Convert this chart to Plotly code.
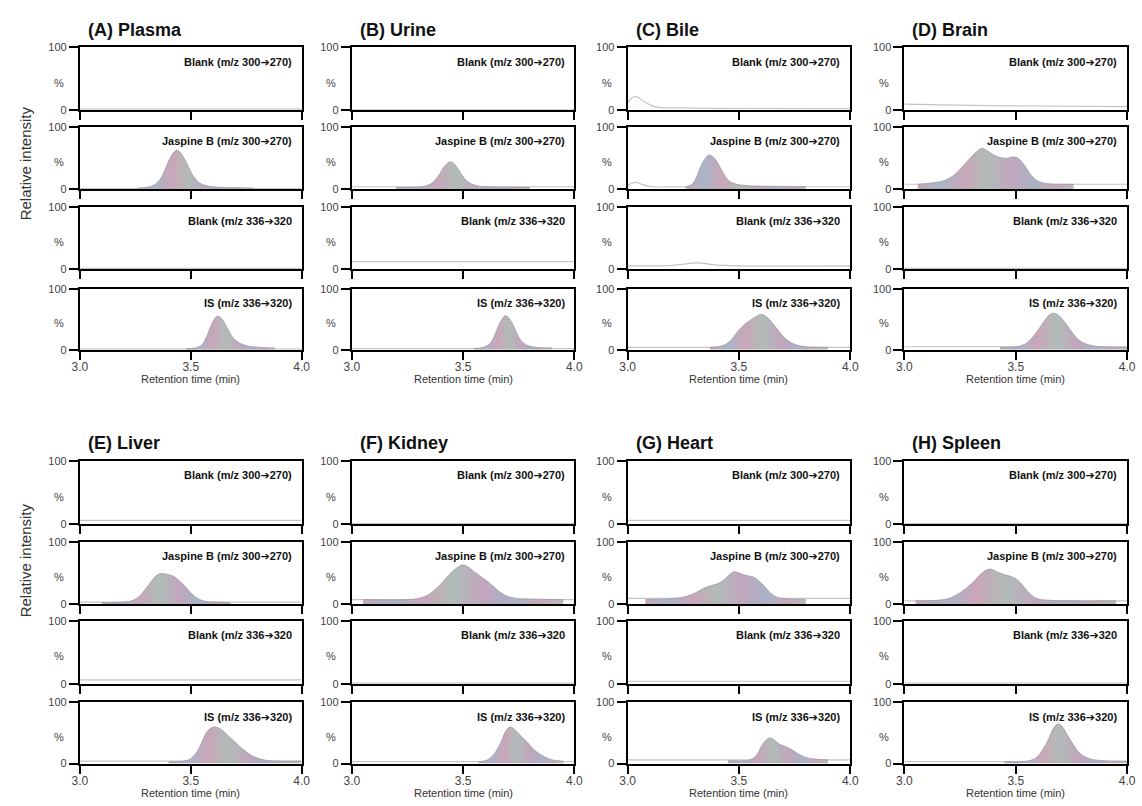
import plotly.graph_objects as go

# ---------------- data ----------------
PANEL_TITLES = ["(A) Plasma", "(B) Urine", "(C) Bile", "(D) Brain",
                "(E) Liver", "(F) Kidney", "(G) Heart", "(H) Spleen"]
CHANNEL_LABELS = ["Blank (m/z 300\u2794270)", "Jaspine B (m/z 300\u2794270)",
                  "Blank (m/z 336\u2794320", "IS (m/z 336\u2794320)"]
X_TICKS = [3.0, 3.5, 4.0]
Y_TICKS = [0, 100]

# baseline traces (retention time, relative intensity) per panel / channel
BASE_RT = [3.0, 4.0]
A_BASE = [2, 1, 1, 1]
B_BASE = [1, 4, 12, 2]
C_BASE = [3, 4, 5, 4]
D_BASE = [6, 8, 1, 5]
E_BASE = [6, 3, 6, 4]
F_BASE = [1, 7, 1, 3]
G_BASE = [6, 9, 4, 6]
H_BASE = [1, 5, 1, 3]

# small features in blank traces
C_BLANK1_T = [3.0, 3.02, 3.04, 3.07, 3.12, 3.25, 4.0]
C_BLANK1_I = [12, 20, 22, 15, 6, 4, 3]
C_BLANK2_T = [3.0, 3.2, 3.28, 3.32, 3.38, 3.5, 4.0]
C_BLANK2_I = [5, 6, 9, 10, 7, 5, 5]
C_JBBASE_T = [3.0, 3.02, 3.04, 3.07, 3.12, 3.25, 4.0]
C_JBBASE_I = [6, 10, 11, 7, 4, 4, 4]
D_BLANK1_T = [3.0, 3.3, 3.6, 4.0]
D_BLANK1_I = [10, 8, 7, 6]

# Jaspine B peaks
A_JB_T = [3.26, 3.30, 3.33, 3.36, 3.38, 3.40, 3.42, 3.435, 3.45, 3.47, 3.49, 3.51, 3.54, 3.58, 3.64, 3.72, 3.78]
A_JB_I = [2, 3, 6, 15, 28, 45, 58, 63, 60, 50, 36, 22, 10, 5, 3, 2.5, 2]
B_JB_T = [3.20, 3.28, 3.33, 3.36, 3.39, 3.41, 3.43, 3.445, 3.46, 3.48, 3.50, 3.53, 3.57, 3.65, 3.80]
B_JB_I = [3, 3, 5, 10, 22, 34, 42, 44, 41, 31, 20, 10, 5, 3.5, 3]
C_JB_T = [3.26, 3.29, 3.31, 3.33, 3.35, 3.365, 3.38, 3.40, 3.42, 3.44, 3.46, 3.49, 3.53, 3.60, 3.70, 3.80]
C_JB_I = [4, 8, 20, 38, 50, 55, 53, 45, 32, 20, 12, 8, 6, 5, 4.5, 4]
D_JB_T = [3.06, 3.12, 3.18, 3.22, 3.26, 3.30, 3.33, 3.35, 3.38, 3.42, 3.46, 3.49, 3.51, 3.54, 3.57, 3.60, 3.64, 3.70, 3.76]
D_JB_I = [8, 10, 14, 22, 36, 52, 62, 66, 60, 52, 50, 52, 50, 38, 22, 13, 9, 8, 8]
E_JB_T = [3.10, 3.20, 3.24, 3.27, 3.30, 3.33, 3.35, 3.37, 3.40, 3.42, 3.44, 3.47, 3.50, 3.53, 3.57, 3.62, 3.68]
E_JB_I = [2, 3, 6, 13, 26, 40, 47, 49, 47, 45, 40, 30, 18, 9, 4, 3, 2]
F_JB_T = [3.05, 3.25, 3.30, 3.34, 3.38, 3.42, 3.45, 3.48, 3.50, 3.52, 3.55, 3.58, 3.61, 3.64, 3.67, 3.70, 3.74, 3.80, 3.95]
F_JB_I = [7, 7, 9, 14, 25, 40, 52, 60, 63, 60, 52, 44, 36, 27, 18, 12, 9, 8, 7]
G_JB_T = [3.08, 3.18, 3.25, 3.30, 3.34, 3.37, 3.40, 3.43, 3.46, 3.48, 3.50, 3.53, 3.56, 3.58, 3.61, 3.64, 3.67, 3.72, 3.80]
G_JB_I = [7, 8, 11, 17, 25, 29, 32, 38, 48, 52, 50, 46, 44, 40, 30, 18, 11, 8, 7]
H_JB_T = [3.05, 3.15, 3.20, 3.25, 3.30, 3.34, 3.37, 3.39, 3.42, 3.45, 3.48, 3.51, 3.54, 3.57, 3.60, 3.65, 3.75, 3.95]
H_JB_I = [5, 6, 9, 18, 32, 47, 55, 56, 51, 47, 44, 38, 26, 14, 8, 6, 5, 5]

# IS peaks
A_IS_T = [3.48, 3.52, 3.55, 3.57, 3.59, 3.61, 3.62, 3.635, 3.65, 3.67, 3.69, 3.72, 3.76, 3.81, 3.88]
A_IS_I = [2, 3, 8, 20, 38, 52, 55, 53, 45, 32, 20, 11, 6, 4, 3]
B_IS_T = [3.55, 3.59, 3.62, 3.64, 3.66, 3.68, 3.69, 3.70, 3.72, 3.74, 3.76, 3.79, 3.83, 3.90]
B_IS_I = [2, 4, 10, 22, 40, 53, 56, 54, 44, 28, 15, 7, 4, 3]
C_IS_T = [3.37, 3.42, 3.46, 3.49, 3.52, 3.55, 3.58, 3.60, 3.62, 3.65, 3.68, 3.71, 3.75, 3.80, 3.90]
C_IS_I = [4, 6, 14, 28, 40, 48, 55, 58, 55, 44, 30, 18, 9, 5, 4]
D_IS_T = [3.43, 3.50, 3.54, 3.57, 3.60, 3.63, 3.65, 3.67, 3.69, 3.72, 3.75, 3.78, 3.82, 3.88, 4.0]
D_IS_I = [4, 5, 9, 18, 32, 48, 57, 60, 57, 45, 30, 17, 9, 5, 4]
E_IS_T = [3.40, 3.47, 3.50, 3.53, 3.55, 3.57, 3.59, 3.61, 3.64, 3.67, 3.70, 3.74, 3.78, 3.83, 3.88, 4.0]
E_IS_I = [3, 4, 8, 20, 35, 50, 58, 60, 55, 45, 35, 22, 12, 6, 4, 4]
F_IS_T = [3.57, 3.61, 3.64, 3.67, 3.69, 3.71, 3.73, 3.76, 3.79, 3.82, 3.86, 3.90, 3.95]
F_IS_I = [3, 6, 16, 35, 52, 60, 56, 45, 34, 22, 12, 6, 4]
G_IS_T = [3.45, 3.55, 3.58, 3.60, 3.62, 3.64, 3.66, 3.68, 3.70, 3.72, 3.74, 3.77, 3.80, 3.85, 3.90]
G_IS_I = [5, 6, 14, 28, 38, 42, 38, 32, 29, 26, 22, 15, 10, 7, 6]
H_IS_T = [3.45, 3.55, 3.59, 3.62, 3.65, 3.67, 3.69, 3.71, 3.73, 3.76, 3.79, 3.83, 3.88, 4.0]
H_IS_I = [3, 4, 9, 22, 42, 58, 65, 60, 48, 30, 16, 8, 5, 4]

BASES = [A_BASE, B_BASE, C_BASE, D_BASE, E_BASE, F_BASE, G_BASE, H_BASE]
JB = [(A_JB_T, A_JB_I), (B_JB_T, B_JB_I), (C_JB_T, C_JB_I), (D_JB_T, D_JB_I),
      (E_JB_T, E_JB_I), (F_JB_T, F_JB_I), (G_JB_T, G_JB_I), (H_JB_T, H_JB_I)]
IS = [(A_IS_T, A_IS_I), (B_IS_T, B_IS_I), (C_IS_T, C_IS_I), (D_IS_T, D_IS_I),
      (E_IS_T, E_IS_I), (F_IS_T, F_IS_I), (G_IS_T, G_IS_I), (H_IS_T, H_IS_I)]
SPECIAL = {(2, 0): (C_BLANK1_T, C_BLANK1_I), (2, 2): (C_BLANK2_T, C_BLANK2_I),
           (2, 1): (C_JBBASE_T, C_JBBASE_I), (3, 0): (D_BLANK1_T, D_BLANK1_I)}

# ---------------- layout geometry (pixels) ----------------
W, H = 1142, 806
COL_X = [(73, 298), (349, 575), (629, 855), (910, 1136)]
ROW_Y = [[(42, 106), (123, 186), (204, 267), (287, 349)],
         [(462, 526), (544, 607), (624, 688), (707, 769)]]

FILL_SCALE = [[0.0, "#c4a8bc"], [0.15, "#aab4c6"], [0.3, "#c9a6b8"], [0.45, "#b0bcb8"],
              [0.6, "#c2a6bd"], [0.75, "#a9b3c6"], [0.9, "#c8a9b6"], [1.0, "#b4bcc2"]]

fig = go.Figure()
layout = dict(width=W, height=H, margin=dict(l=0, r=0, t=0, b=0),
              plot_bgcolor="white", paper_bgcolor="white", showlegend=False)
annotations = []

SANS = "Liberation Sans, Arial, sans-serif"
TICK_FONT = dict(family=SANS, size=11, color="#444")
LABEL_FONT = dict(family=SANS, size=11, color="#111")


def label_html(txt):
    # render the arrow glyph with a font that has it
    return "<b>" + txt.replace("\u2794", '<span style="font-family:DejaVu Sans">\u2794</span>') + "</b>"


for p in range(8):
    r, c = divmod(p, 4)
    x0, x1 = COL_X[c]
    for ch in range(4):
        idx = p * 4 + ch + 1
        top, bot = ROW_Y[r][ch]
        xa = "x" if idx == 1 else f"x{idx}"
        ya = "y" if idx == 1 else f"y{idx}"
        xkey = "xaxis" if idx == 1 else f"xaxis{idx}"
        ykey = "yaxis" if idx == 1 else f"yaxis{idx}"
        layout[xkey] = dict(domain=[x0 / W, x1 / W], anchor=ya, range=[3.0, 4.0],
                            showline=True, linecolor="black", linewidth=2, mirror=True,
                            ticks="outside", tickvals=X_TICKS, ticklen=8, tickwidth=2,
                            tickcolor="black", showticklabels=(ch == 3), tickformat=".1f",
                            ticklabelstandoff=-3,
                            tickfont=dict(family=SANS, size=12, color="#444"),
                            showgrid=False, zeroline=False, fixedrange=True)
        layout[ykey] = dict(domain=[1 - bot / H, 1 - top / H], anchor=xa, range=[0, 100],
                            showline=True, linecolor="black", linewidth=2, mirror=True,
                            ticks="outside", tickvals=Y_TICKS, ticklen=9, tickwidth=2,
                            tickcolor="black", tickfont=TICK_FONT, showgrid=False,
                            zeroline=False, fixedrange=True)
        # baseline / blank trace
        if (p, ch) in SPECIAL:
            bt, bi = SPECIAL[(p, ch)]
        else:
            lvl = BASES[p][ch]
            bt, bi = BASE_RT, [lvl, lvl]
        fig.add_trace(go.Scatter(x=bt, y=bi, mode="lines", xaxis=xa, yaxis=ya,
                                 line=dict(color="#c4c4c4", width=1.2, shape="spline"),
                                 hoverinfo="skip"))
        # peaks
        if ch in (1, 3):
            pt, pi = (JB if ch == 1 else IS)[p]
            fig.add_trace(go.Scatter(x=pt, y=pi, mode="lines", xaxis=xa, yaxis=ya,
                                     line=dict(color="#9a9aa6", width=0.8, shape="spline"),
                                     fill="tozeroy",
                                     fillgradient=dict(type="horizontal", colorscale=FILL_SCALE),
                                     hoverinfo="skip"))
        # channel label
        annotations.append(dict(x=(x1 - 8) / W, y=1 - (top + 15) / H, xref="paper", yref="paper",
                                text=label_html(CHANNEL_LABELS[ch]), showarrow=False,
                                xanchor="right", yanchor="middle", font=LABEL_FONT))
        # % label
        annotations.append(dict(x=(x0 - 21) / W, y=1 - ((top + bot) / 2 + 4) / H,
                                xref="paper", yref="paper", text="%", showarrow=False,
                                xanchor="center", yanchor="middle", font=TICK_FONT))
    # panel title
    annotations.append(dict(x=(x0 + 6) / W, y=1 - (ROW_Y[r][0][0] - 18) / H,
                            xref="paper", yref="paper", text=f"<b>{PANEL_TITLES[p]}</b>",
                            showarrow=False, xanchor="left", yanchor="middle",
                            font=dict(family=SANS, size=18, color="#111")))
    # x-axis title
    annotations.append(dict(x=(x0 + x1) / 2 / W, y=1 - (ROW_Y[r][3][1] + 30) / H,
                            xref="paper", yref="paper", text="Retention time (min)",
                            showarrow=False, xanchor="center", yanchor="middle",
                            font=dict(family=SANS, size=11, color="#333")))

for r, yc in enumerate([160, 563]):
    annotations.append(dict(x=18 / W, y=1 - yc / H, xref="paper", yref="paper",
                            text="Relative intensity", textangle=-90, showarrow=False,
                            xanchor="center", yanchor="middle",
                            font=dict(family=SANS, size=15, color="#333")))

layout["annotations"] = annotations
fig.update_layout(**layout)
fig.write_html("out.html")
